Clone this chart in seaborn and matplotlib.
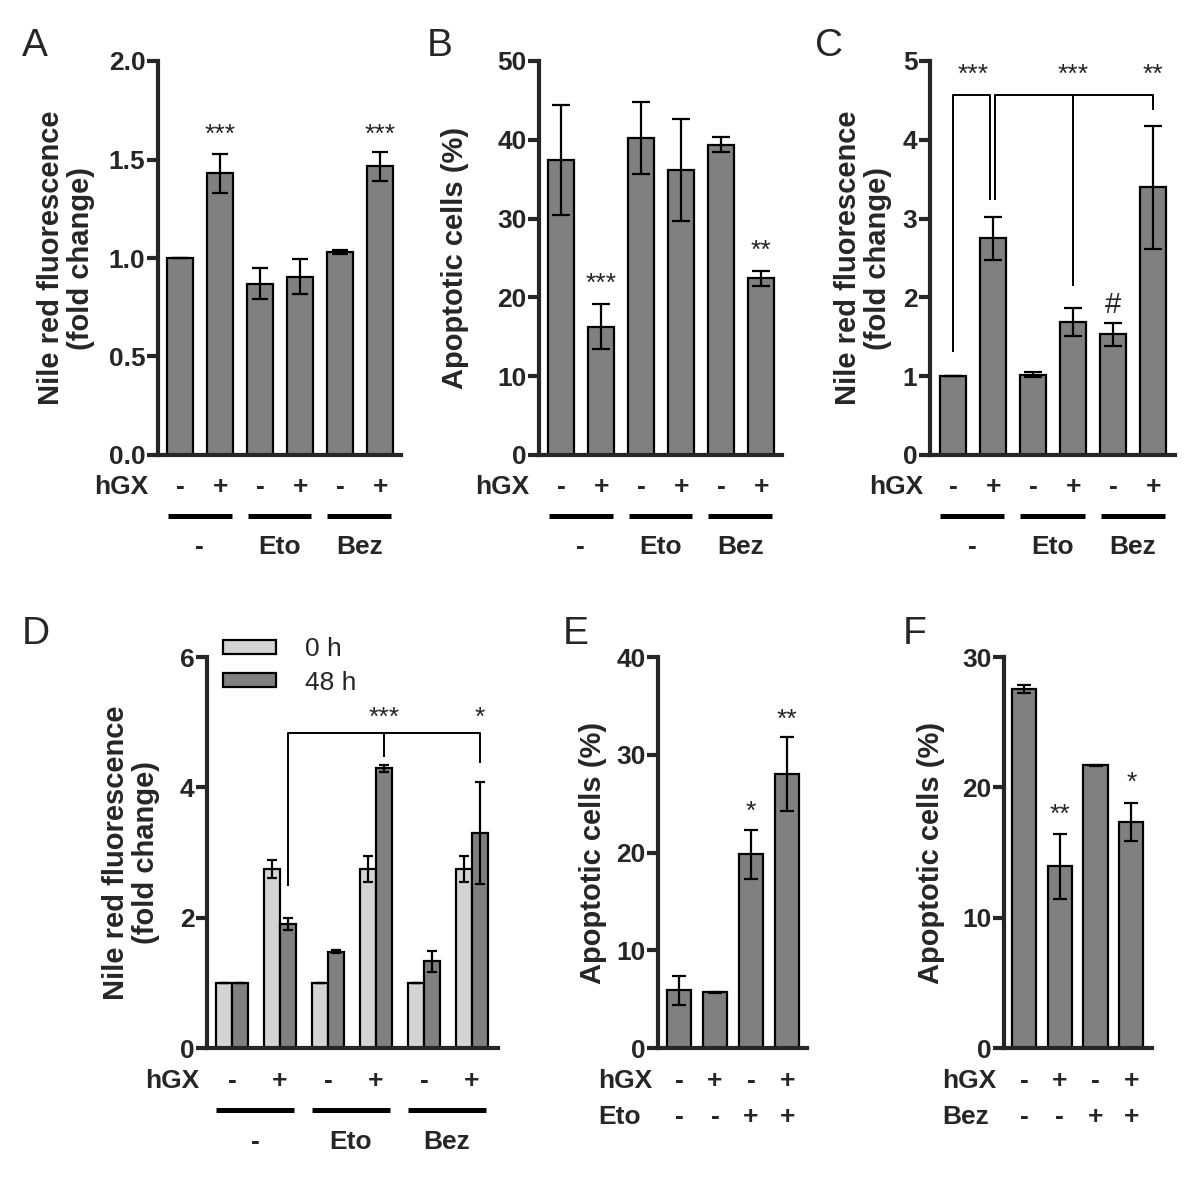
import numpy as np
import pandas as pd
import matplotlib
matplotlib.use("Agg")
import matplotlib.pyplot as plt
import seaborn as sns
from matplotlib.patches import Patch

sns.set_style("ticks")
plt.rcParams["font.family"] = ["Liberation Sans", "DejaVu Sans"]

DARK = "#808080"
LIGHT = "#d4d4d4"

# ---------------- data ----------------
top_conds = ["ctrl/-", "ctrl/hGX", "Eto/-", "Eto/hGX", "Bez/-", "Bez/hGX"]
hgx_signs6 = ["-", "+", "-", "+", "-", "+"]
group_names = ["-", "Eto", "Bez"]

# A: Nile red fluorescence (fold change)
a_vals = [1.0, 1.43, 0.87, 0.905, 1.03, 1.465]
a_errs = [0.0, 0.10, 0.08, 0.09, 0.012, 0.075]
a_stars = [(1, "***", 1.665), (5, "***", 1.665)]

# B: Apoptotic cells (%)
b_vals = [37.4, 16.3, 40.2, 36.2, 39.4, 22.4]
b_errs = [7.0, 2.8, 4.6, 6.5, 1.0, 1.0]
b_stars = [(1, "***", 22.8), (5, "**", 27.0)]

# C: Nile red fluorescence (fold change)
c_vals = [1.0, 2.75, 1.02, 1.69, 1.53, 3.40]
c_errs = [0.0, 0.27, 0.03, 0.18, 0.15, 0.78]
c_stars = [(0.5, "***", 4.93), (3, "***", 4.93), (5, "**", 4.93)]
c_hash = (4, "#", 1.94)

# D: Nile red fluorescence, 0 h vs 48 h
d_times = ["0 h", "48 h"]
d_0h_vals = [1.0, 2.75, 1.0, 2.75, 1.0, 2.75]
d_0h_errs = [0.0, 0.14, 0.0, 0.20, 0.0, 0.20]
d_48h_vals = [1.0, 1.90, 1.48, 4.29, 1.33, 3.30]
d_48h_errs = [0.0, 0.09, 0.02, 0.05, 0.16, 0.78]
d_stars = [(3.167, "***", 5.19), (5.167, "*", 5.19)]

# E: Apoptotic cells (%), hGX x Eto
e_conds = ["-/-", "hGX/-", "-/Eto", "hGX/Eto"]
e_hgx = ["-", "+", "-", "+"]
e_eto = ["-", "-", "+", "+"]
e_vals = [5.9, 5.7, 19.8, 28.0]
e_errs = [1.5, 0.05, 2.5, 3.8]
e_stars = [(2, "*", 25.0), (3, "**", 34.4)]

# F: Apoptotic cells (%), hGX x Bez
f_conds = ["-/-", "hGX/-", "-/Bez", "hGX/Bez"]
f_hgx = ["-", "+", "-", "+"]
f_bez = ["-", "-", "+", "+"]
f_vals = [27.55, 13.95, 21.7, 17.35]
f_errs = [0.3, 2.5, 0.05, 1.45]
f_stars = [(1, "**", 18.5), (3, "*", 21.0)]

NILE = "Nile red fluorescence\n(fold change)"
APOP = "Apoptotic cells (%)"

# ---------------- figure ----------------
W, H = 1200, 1195
fig = plt.figure(figsize=(W / 100, H / 100), dpi=100)


def px_axes(left, top, right, bottom):
    return fig.add_axes([left / W, 1 - bottom / H, (right - left) / W, (bottom - top) / H])


TICK_FS = 19
LAB_FS = 21
ROW_FS = 19
STAR_FS = 19


def style_axis(ax, ylim, yticks, fmt, xlim, ylabel, label_x):
    ax.set_xlim(*xlim)
    ax.set_ylim(*ylim)
    ax.set_yticks(yticks)
    ax.set_yticklabels([fmt.format(t) for t in yticks], fontsize=TICK_FS, fontweight="bold")
    sns.despine(ax=ax)
    for s in ("left", "bottom"):
        ax.spines[s].set_linewidth(3.0)
    ax.tick_params(axis="y", length=8, width=3, pad=1)
    ax.tick_params(axis="x", bottom=False, labelbottom=False)
    ax.set_xlabel("")
    ax.set_ylabel(ylabel, fontsize=LAB_FS, fontweight="bold", linespacing=1.1)
    ax.yaxis.set_label_coords(label_x, 0.5)


def add_errorbars(ax, vals, errs, capsize):
    pats = sorted(ax.patches, key=lambda p: p.get_x())
    xs = [p.get_x() + p.get_width() / 2 for p in pats]
    ax.errorbar(xs, vals, yerr=errs, fmt="none", ecolor="black", elinewidth=1.6,
                capsize=capsize, capthick=1.6, zorder=4)


def add_stars(ax, stars, fs=STAR_FS, frac=0.58):
    for x, s, y in stars:
        ax.annotate(s, xy=(x, y), xytext=(0, -frac * fs), textcoords="offset points",
                    ha="center", va="baseline", fontsize=fs, annotation_clip=False)


def row_text(ax, xs, labels, y, label, label_x, label_ha="right"):
    tr = ax.get_xaxis_transform()
    for x, s in zip(xs, labels):
        ax.text(x, y, s, transform=tr, ha="center", va="center",
                fontsize=ROW_FS, fontweight="bold", clip_on=False)
    ax.text(label_x, y, label, transform=tr, ha=label_ha, va="center",
            fontsize=ROW_FS, fontweight="bold", clip_on=False)


def group_rows(ax, y_line, y_lab, half=0.8):
    tr = ax.get_xaxis_transform()
    for g, name in enumerate(group_names):
        c = 2 * g + 0.48
        ax.plot([c - half, c + half], [y_line, y_line], transform=tr, color="black",
                lw=3.6, solid_capstyle="butt", clip_on=False)
        ax.text(c, y_lab, name, transform=tr, ha="center", va="center",
                fontsize=ROW_FS, fontweight="bold", clip_on=False)


def simple_bars(ax, cats, vals, width):
    df = pd.DataFrame({"cond": cats, "val": vals})
    sns.barplot(data=df, x="cond", y="val", order=cats, color=DARK, saturation=1,
                edgecolor="black", linewidth=1.6, width=width, errorbar=None, ax=ax)


# ---- A ----
axA = px_axes(158, 61, 401, 455)
simple_bars(axA, top_conds, a_vals, 0.65)
add_errorbars(axA, a_vals, a_errs, 5.5)
style_axis(axA, (0, 2.0), [0, 0.5, 1.0, 1.5, 2.0], "{:.1f}", (-0.56, 5.52), NILE, -0.26)
add_stars(axA, a_stars)
row_text(axA, range(6), hgx_signs6, -0.081, "hGX", -0.8)
group_rows(axA, -0.155, -0.234)

# ---- B ----
axB = px_axes(539, 61, 782, 455)
simple_bars(axB, top_conds, b_vals, 0.65)
add_errorbars(axB, b_vals, b_errs, 6.5)
style_axis(axB, (0, 50), [0, 10, 20, 30, 40, 50], "{:d}", (-0.56, 5.52), APOP, -0.29)
add_stars(axB, b_stars)
row_text(axB, range(6), hgx_signs6, -0.081, "hGX", -0.8)
group_rows(axB, -0.155, -0.234)

# ---- C ----
axC = px_axes(930, 61, 1175, 455)
simple_bars(axC, top_conds, c_vals, 0.65)
add_errorbars(axC, c_vals, c_errs, 6.5)
style_axis(axC, (0, 5), [0, 1, 2, 3, 4, 5], "{:d}", (-0.58, 5.54), NILE, -0.155)
add_stars(axC, c_stars)
add_stars(axC, [c_hash], fs=21, frac=0.36)
br = dict(color="black", lw=1.4, solid_capstyle="butt", zorder=5)
axC.plot([0, 0, 0.92, 0.92], [1.31, 4.57, 4.57, 3.23], **br)
axC.plot([1.04, 1.04, 5.0, 5.0], [3.23, 4.57, 4.57, 4.38], **br)
axC.plot([3.0, 3.0], [4.57, 2.15], **br)
row_text(axC, range(6), hgx_signs6, -0.081, "hGX", -0.75)
group_rows(axC, -0.155, -0.234)

# ---- D ----
axD = px_axes(207, 657, 498, 1048)
d_conds = top_conds
dfD = pd.DataFrame({
    "cond": np.repeat(d_conds, 2),
    "time": d_times * len(d_conds),
    "val": np.ravel(np.column_stack([d_0h_vals, d_48h_vals])),
})
sns.barplot(data=dfD, x="cond", y="val", hue="time", order=d_conds, hue_order=d_times,
            palette=[LIGHT, DARK], saturation=1, width=0.67, gap=0, dodge=True,
            edgecolor="black", linewidth=1.6, errorbar=None, legend=False, ax=axD)
d_vals_il = list(np.ravel(np.column_stack([d_0h_vals, d_48h_vals])))
d_errs_il = list(np.ravel(np.column_stack([d_0h_errs, d_48h_errs])))
add_errorbars(axD, d_vals_il, d_errs_il, 3.5)
style_axis(axD, (0, 6), [0, 2, 4, 6], "{:d}", (-0.52, 5.54), NILE, -0.16)
add_stars(axD, d_stars)
axD.plot([1.167, 1.167, 5.167, 5.167], [2.48, 4.83, 4.83, 4.38], **br)
axD.plot([3.167, 3.167], [4.83, 4.46], **br)
handles = [Patch(facecolor=LIGHT, edgecolor="black", linewidth=1.6, label=d_times[0]),
           Patch(facecolor=DARK, edgecolor="black", linewidth=1.6, label=d_times[1])]
axD.legend(handles=handles, loc="upper left", bbox_to_anchor=(0.055, 1.05),
           frameon=False, fontsize=19, handlelength=2.0, handleheight=0.45,
           handletextpad=1.1, labelspacing=0.35, borderpad=0, borderaxespad=0)
row_text(axD, range(6), hgx_signs6, -0.084, "hGX", -0.67)
group_rows(axD, -0.159, -0.24, half=0.82)

# ---- E ----
axE = px_axes(658, 657, 807, 1048)
simple_bars(axE, e_conds, e_vals, 0.68)
add_errorbars(axE, e_vals, e_errs, 5)
style_axis(axE, (0, 40), [0, 10, 20, 30, 40], "{:d}", (-0.58, 3.55), APOP, -0.34)
add_stars(axE, e_stars)
row_text(axE, range(4), e_hgx, -0.084, "hGX", -2.25, "left")
row_text(axE, range(4), e_eto, -0.176, "Eto", -2.25, "left")

# ---- F ----
axF = px_axes(1004, 657, 1152, 1048)
simple_bars(axF, f_conds, f_vals, 0.68)
add_errorbars(axF, f_vals, f_errs, 5)
style_axis(axF, (0, 30), [0, 10, 20, 30], "{:d}", (-0.56, 3.58), APOP, -0.40)
add_stars(axF, f_stars)
row_text(axF, range(4), f_hgx, -0.084, "hGX", -2.3, "left")
row_text(axF, range(4), f_bez, -0.176, "Bez", -2.3, "left")

# ---- panel letters ----
for letter, x, y in [("A", 22, 56), ("B", 427, 56), ("C", 815, 56),
                     ("D", 22, 644), ("E", 563, 644), ("F", 903, 644)]:
    fig.text(x / W, 1 - y / H, letter, fontsize=28, ha="left", va="baseline")

fig.savefig("out.png", dpi=100)
